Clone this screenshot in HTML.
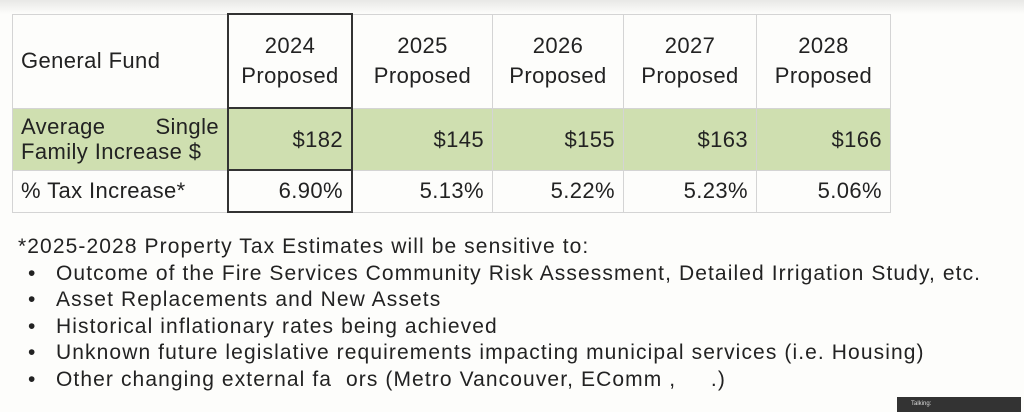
<!DOCTYPE html>
<html><head><style>
body{margin:0;width:1024px;height:412px;background:#fdfdfb;font-family:"Liberation Sans",sans-serif;color:#222;position:relative;overflow:hidden}
.top{position:absolute;left:0;top:0;width:1024px;height:14px;background:linear-gradient(#e8e8e6,#fdfdfb)}
table{position:absolute;left:12px;top:13px;border-collapse:collapse;font-size:22px;letter-spacing:0.4px}
td{border:1px solid #d4d4d4;padding:0 8px;color:#222}
.h td{height:92px;text-align:center;line-height:30px}
.g td{height:60px;background:#cfdfb0;text-align:right;line-height:25px}
.r td{height:40px;text-align:right}
td.l{text-align:left}
td.b{border:2px solid #333}
.txt{position:absolute;left:18px;top:234px;font-size:21px;letter-spacing:1.1px;line-height:26.6px;color:#222}
.txt div.i{padding-left:38px;position:relative}
.txt div.i:before{content:"•";position:absolute;left:10px}
.talk{position:absolute;left:897px;top:397px;width:124px;height:15px;background:#333;color:#ddd;font-size:6px;padding-left:14px;box-sizing:border-box;line-height:14px}
</style></head><body>
<div class="top"></div>
<table>
<tr class="h"><td class="l" style="width:198px">General Fund</td><td class="b" style="width:106px">2024<br>Proposed</td><td style="width:123px">2025<br>Proposed</td><td style="width:114px">2026<br>Proposed</td><td style="width:116px">2027<br>Proposed</td><td style="width:117px">2028<br>Proposed</td></tr>
<tr class="g"><td class="l"><div style="display:flex;justify-content:space-between"><span>Average</span><span>Single</span></div>Family Increase $</td><td class="b">$182</td><td>$145</td><td>$155</td><td>$163</td><td>$166</td></tr>
<tr class="r"><td class="l">% Tax Increase*</td><td class="b">6.90%</td><td>5.13%</td><td>5.22%</td><td>5.23%</td><td>5.06%</td></tr>
</table>
<div class="txt">
<div>*2025-2028 Property Tax Estimates will be sensitive to:</div>
<div class="i">Outcome of the Fire Services Community Risk Assessment, Detailed Irrigation Study, etc.</div>
<div class="i">Asset Replacements and New Assets</div>
<div class="i">Historical inflationary rates being achieved</div>
<div class="i">Unknown future legislative requirements impacting municipal services (i.e. Housing)</div>
<div class="i">Other changing external fa&nbsp;&nbsp;ors (Metro Vancouver, EComm ,&nbsp;&nbsp;&nbsp;&nbsp;&nbsp;.)</div>
</div>
<div class="talk">Talking:</div>
</body></html>
